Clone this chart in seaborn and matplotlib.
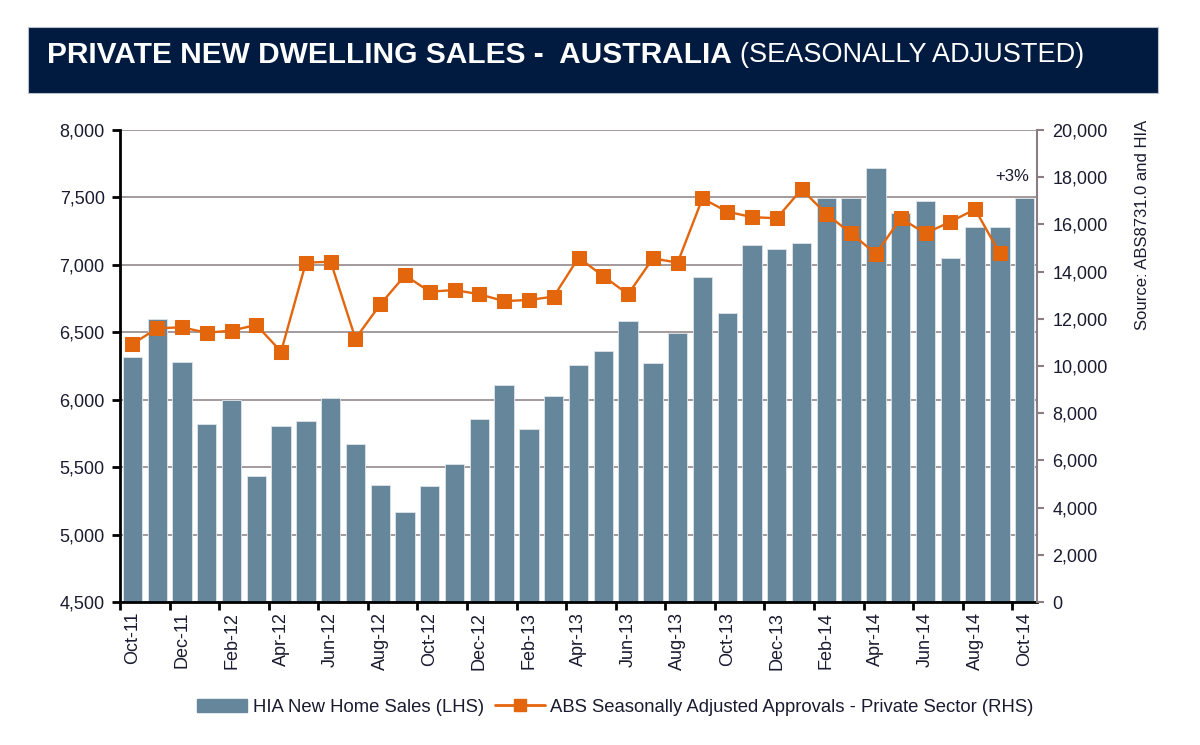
import numpy as np
import pandas as pd
import matplotlib
matplotlib.use("Agg")
import matplotlib.pyplot as plt
import seaborn as sns
from matplotlib.patches import Rectangle, Patch
from matplotlib.lines import Line2D
from matplotlib.ticker import FuncFormatter

months = ["Oct-11", "Nov-11", "Dec-11", "Jan-12", "Feb-12", "Mar-12", "Apr-12", "May-12",
          "Jun-12", "Jul-12", "Aug-12", "Sep-12", "Oct-12", "Nov-12", "Dec-12", "Jan-13",
          "Feb-13", "Mar-13", "Apr-13", "May-13", "Jun-13", "Jul-13", "Aug-13", "Sep-13",
          "Oct-13", "Nov-13", "Dec-13", "Jan-14", "Feb-14", "Mar-14", "Apr-14", "May-14",
          "Jun-14", "Jul-14", "Aug-14", "Sep-14", "Oct-14"]

hia_sales = [6320, 6600, 6280, 5820, 6000, 5435, 5805, 5845, 6010, 5670, 5370, 5170,
             5360, 5525, 5860, 6110, 5785, 6030, 6260, 6365, 6585, 6275, 6495, 6910,
             6645, 7145, 7120, 7160, 7495, 7495, 7715, 7385, 7475, 7050, 7280, 7280, 7495]

abs_approvals = [10930, 11600, 11640, 11410, 11500, 11740, 10610, 14380, 14420, 11160,
                 12610, 13840, 13150, 13220, 13040, 12750, 12800, 12940, 14590, 13810,
                 13040, 14560, 14380, 17100, 16540, 16310, 16260, 17490, 16440, 15620,
                 14750, 16260, 15620, 16110, 16640, 14770]

bar_label = "HIA New Home Sales (LHS)"
line_label = "ABS Seasonally Adjusted Approvals - Private Sector (RHS)"

BAR_COLOR = "#66869b"
ORANGE = "#e3650c"
NAVY = "#001a40"
TEXT = "#1a1a30"
GRID = "#a39a9c"

sns.set_theme(style="white")
plt.rcParams["font.family"] = ["Liberation Sans", "DejaVu Sans"]

fig = plt.figure(figsize=(12, 7.45), dpi=100)
ax = fig.add_axes([0.1, 0.1919, 0.7642, 0.6336])

df = pd.DataFrame({"month": months, "sales": hia_sales})
sns.barplot(data=df, x="month", y="sales", color=BAR_COLOR, saturation=1, width=0.78,
            edgecolor="#dfe5ea", linewidth=0.6, ax=ax, zorder=2)
ax.set_ylim(4500, 8000)
ax.set_yticks(np.arange(4500, 8001, 500))
ax.yaxis.set_major_formatter(FuncFormatter(lambda v, p: f"{int(v):,}"))
ax.grid(axis="y", color=GRID, lw=1.4)
ax.grid(axis="x", visible=False)
ax.set_axisbelow(True)
ax.set_xlabel("")
ax.set_ylabel("")

ax2 = ax.twinx()
sns.lineplot(x=np.arange(len(abs_approvals)), y=abs_approvals, ax=ax2, color=ORANGE,
             marker="s", markersize=10, markeredgecolor=ORANGE, lw=1.7)
ax2.set_ylim(0, 20000)
ax2.set_yticks(np.arange(0, 20001, 2000))
ax2.yaxis.set_major_formatter(FuncFormatter(lambda v, p: f"{int(v):,}"))
ax2.set_ylabel("")
ax2.grid(False)

ax.set_xlim(-0.5, len(months) - 0.5)
ax.set_xticks(np.arange(0, len(months), 2))
ax.set_xticklabels(months[::2], rotation=90)
ax.set_xticks(np.arange(-0.5, len(months) - 1, 2), minor=True)
ax.tick_params(axis="x", which="major", length=0, pad=7, labelsize=13, labelcolor=TEXT)
ax.tick_params(axis="x", which="minor", length=6, width=2, color="black", direction="out", bottom=True)
ax.tick_params(axis="y", which="major", length=6, width=2, color="black", direction="out",
               left=True, pad=5, labelsize=13, labelcolor=TEXT)
ax2.tick_params(axis="y", which="major", length=5, width=1.5, color="#8a7e80", direction="out",
                right=True, pad=6, labelsize=13, labelcolor=TEXT)

for s in ["top", "right"]:
    ax.spines[s].set_visible(False)
for s in ["left", "bottom"]:
    ax.spines[s].set_color("black")
    ax.spines[s].set_linewidth(2)
for s in ["top", "left", "bottom"]:
    ax2.spines[s].set_visible(False)
ax2.spines["right"].set_color("#8a7e80")
ax2.spines["right"].set_linewidth(1.5)

ax.text(36.2, 7655, "+3%", ha="right", va="center", fontsize=12, color=TEXT, zorder=5)

fig.text(0.952, 1 - 330 / 745, "Source: ABS8731.0 and HIA", rotation=90, ha="center",
         va="bottom", fontsize=12, color=TEXT)

handles = [Patch(facecolor=BAR_COLOR, edgecolor=BAR_COLOR),
           Line2D([0], [0], color=ORANGE, lw=2, marker="s", markersize=9)]
fig.legend(handles, [bar_label, line_label], loc="center", bbox_to_anchor=(0.513, 0.051),
           ncol=2, frameon=False, fontsize=13.3, handlelength=2.7, handletextpad=0.3,
           columnspacing=0.6, labelcolor=TEXT)

fig.patches.append(Rectangle((28 / 1200, 1 - 93 / 745), 1130 / 1200, 66 / 745,
                             transform=fig.transFigure, facecolor=NAVY, edgecolor="#b8c0cc",
                             lw=0.8, zorder=0))
title_fam = ["Liberation Sans", "DejaVu Sans"]
t1 = fig.text(47 / 1200, 1 - 55 / 745, "PRIVATE NEW DWELLING SALES -  AUSTRALIA",
              color="white", fontsize=21.5, fontweight="bold", family=title_fam,
              ha="left", va="center")
fig.canvas.draw()
bb = t1.get_window_extent()
fig.text((bb.x1 + 8) / 1200, 1 - 55 / 745, "(SEASONALLY ADJUSTED)", color="white",
         fontsize=19.5, family=title_fam, ha="left", va="center")

fig.savefig("out.png", dpi=100)
